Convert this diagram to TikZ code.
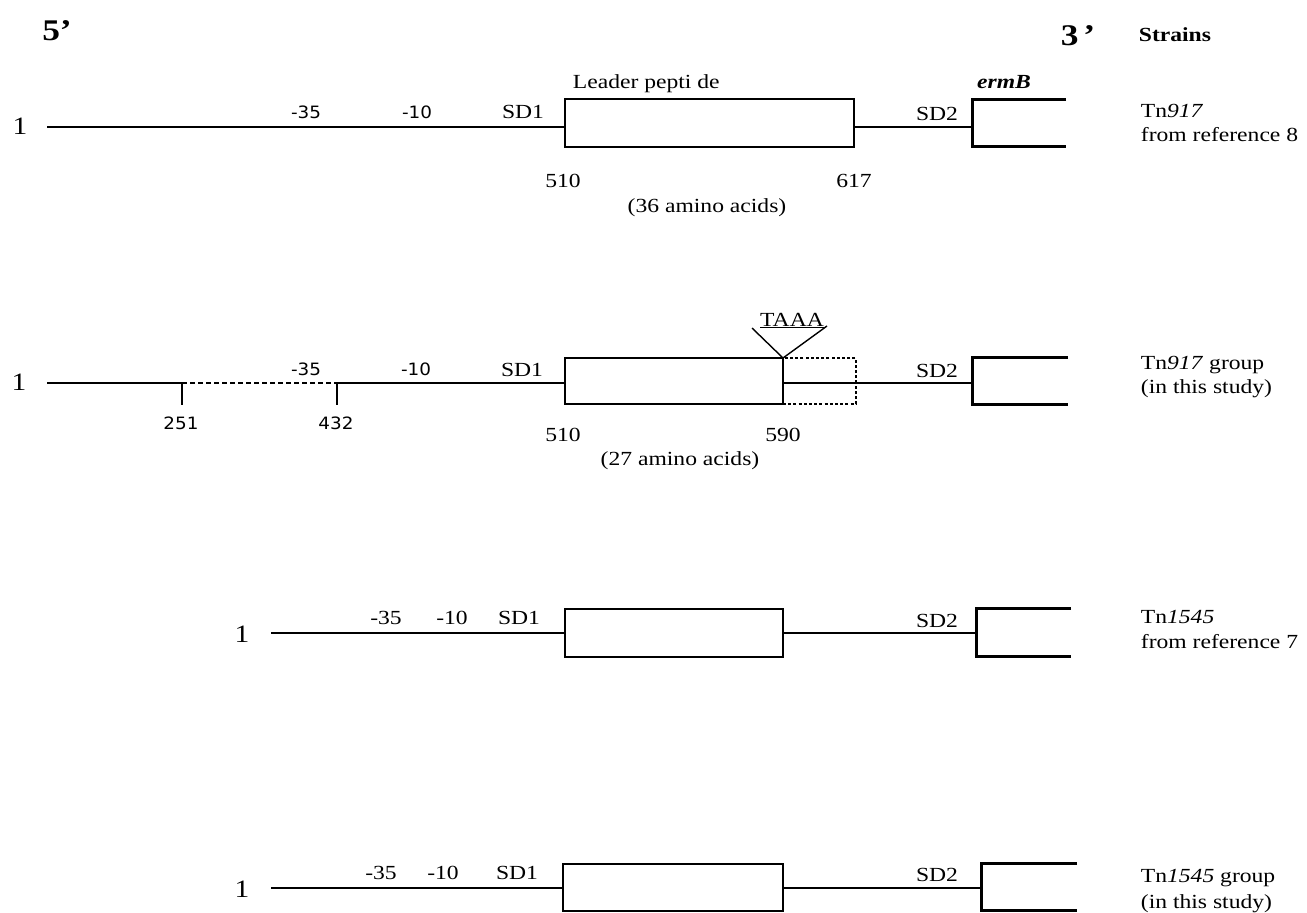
\documentclass[tikz,border=0pt]{standalone}
\usepackage{fontspec}
\setmainfont{Liberation Serif}[FakeStretch=1.18]
\newfontfamily\sansf{DejaVu Sans}[FakeStretch=1.08]
\begin{document}
\begin{tikzpicture}[x=1pt,y=-1pt,line width=1.8pt,
  lbl/.style={font=\fontsize{20}{22}\selectfont,inner sep=0pt,anchor=base},
  lbll/.style={lbl,anchor=base west},
  slbl/.style={font=\sansf\fontsize{17}{20}\selectfont,inner sep=0pt,anchor=base},
  onelbl/.style={font=\fontsize{25}{27}\selectfont,inner sep=0pt,anchor=base},
  endlbl/.style={font=\bfseries\fontsize{30}{32}\selectfont,inner sep=0pt,anchor=base},
  gene/.style={draw,line width=2.8pt,rectangle,inner sep=0pt,outer sep=0pt,anchor=north west},
  ghost/.style={gene,dash pattern=on 3pt off 2.2pt,line width=2.8pt},
  brk/.style={line width=3pt,line join=miter},
  del/.style={dash pattern=on 5pt off 3pt}]
\useasboundingbox (0,0) rectangle (1307,913);

% headers
\node[endlbl] (p5) at (57,40) {5’};
\node[endlbl] (p3) at (1078,45) {3\,’};
\node[lbl,anchor=base west,font=\bfseries\fontsize{20}{22}\selectfont] (strains) at (1138,41) {Strains};

% ---------------- Row 1 ----------------
\node[onelbl] (one1) at (20,134) {1};
\coordinate (s1) at (47,127);
\node[gene,minimum width=289pt,minimum height=48pt] (b1) at (565,99) {};
\coordinate (k1) at (972,127);
\draw (s1) -- (s1 -| b1.west);
\draw (s1 -| b1.east) -- (k1);
\coordinate (e1a) at (1066,99);
\coordinate (e1b) at (972,99);
\coordinate (e1c) at (972,146);
\coordinate (e1d) at (1066,146);
\draw[brk] (e1a) -- (e1b) -- (e1c) -- (e1d);
\node[slbl] (m35a) at (306,118) {-35};
\node[slbl] (m10a) at (417,118) {-10};
\node[lbl] (sd1a) at (523,118) {SD1};
\node[lbl] (sd2a) at (937,120) {SD2};
\node[lbll] (leader) at (572,88) {Leader pepti de};
\node[lbl,font=\bfseries\itshape\fontsize{20}{22}\selectfont] (ermb) at (1004,88) {ermB};
\node[lbl] (n510a) at (563,187) {510};
\node[lbl] (n617) at (854,187) {617};
\node[lbl] (aa36) at (707,212) {(36 amino acids)};
\node[lbll] (st1a) at (1140,117) {Tn\textit{917}};
\node[lbll] (st1b) at (1140,141) {from reference 8};

% ---------------- Row 2 ----------------
\node[onelbl] (one2) at (19,390) {1};
\coordinate (s2) at (47,383);
\coordinate (t251) at (182,383);
\coordinate (t432) at (337,383);
\node[gene,minimum width=218pt,minimum height=46pt] (b2) at (565,358) {};
\node[ghost,minimum width=73pt,minimum height=46pt] (d2) at (783,358) {};
\coordinate (k2) at (972,383);
\draw (s2) -- (t251);
\draw[del] (t251) -- (t432);
\draw (t432) -- (s2 -| b2.west);
\draw (t251) -- ++(0,22);
\draw (t432) -- ++(0,22);
\draw (s2 -| b2.east) -- (k2);
\coordinate (e2a) at (1068,357);
\coordinate (e2b) at (972,357);
\coordinate (e2c) at (972,404);
\coordinate (e2d) at (1068,404);
\draw[brk] (e2a) -- (e2b) -- (e2c) -- (e2d);
\coordinate (v1) at (752,328);
\coordinate (v2) at (827,326);
\draw[line width=1.4pt] (v1) -- (b2.north east) -- (v2);
\node[lbl] (taaa) at (792,326) {\underline{TAAA}};
\node[slbl] (m35b) at (306,375) {-35};
\node[slbl] (m10b) at (416,375) {-10};
\node[lbl] (sd1b) at (522,376) {SD1};
\node[lbl] (sd2b) at (937,377) {SD2};
\node[slbl] (n251) at (181,429) {251};
\node[slbl] (n432) at (336,429) {432};
\node[lbl] (n510b) at (563,441) {510};
\node[lbl] (n590) at (783,441) {590};
\node[lbl] (aa27) at (680,465) {(27 amino acids)};
\node[lbll] (st2a) at (1140,369) {Tn\textit{917} group};
\node[lbll] (st2b) at (1140,393) {(in this study)};

% ---------------- Row 3 ----------------
\node[onelbl] (one3) at (242,642) {1};
\coordinate (s3) at (271,633);
\node[gene,minimum width=218pt,minimum height=48pt] (b3) at (565,609) {};
\coordinate (k3) at (976,633);
\draw (s3) -- (s3 -| b3.west);
\draw (s3 -| b3.east) -- (k3);
\coordinate (e3a) at (1071,608);
\coordinate (e3b) at (976,608);
\coordinate (e3c) at (976,656);
\coordinate (e3d) at (1071,656);
\draw[brk] (e3a) -- (e3b) -- (e3c) -- (e3d);
\node[lbl] (m35c) at (386,624) {-35};
\node[lbl] (m10c) at (452,624) {-10};
\node[lbl] (sd1c) at (519,624) {SD1};
\node[lbl] (sd2c) at (937,627) {SD2};
\node[lbll] (st3a) at (1140,623) {Tn\textit{1545}};
\node[lbll] (st3b) at (1140,648) {from reference 7};

% ---------------- Row 4 ----------------
\node[onelbl] (one4) at (242,897) {1};
\coordinate (s4) at (271,888);
\node[gene,minimum width=220pt,minimum height=47pt] (b4) at (563,864) {};
\coordinate (k4) at (981,888);
\draw (s4) -- (s4 -| b4.west);
\draw (s4 -| b4.east) -- (k4);
\coordinate (e4a) at (1077,863);
\coordinate (e4b) at (981,863);
\coordinate (e4c) at (981,910);
\coordinate (e4d) at (1077,910);
\draw[brk] (e4a) -- (e4b) -- (e4c) -- (e4d);
\node[lbl] (m35d) at (381,879) {-35};
\node[lbl] (m10d) at (443,879) {-10};
\node[lbl] (sd1d) at (517,879) {SD1};
\node[lbl] (sd2d) at (937,881) {SD2};
\node[lbll] (st4a) at (1140,882) {Tn\textit{1545} group};
\node[lbll] (st4b) at (1140,908) {(in this study)};
\end{tikzpicture}
\end{document}
